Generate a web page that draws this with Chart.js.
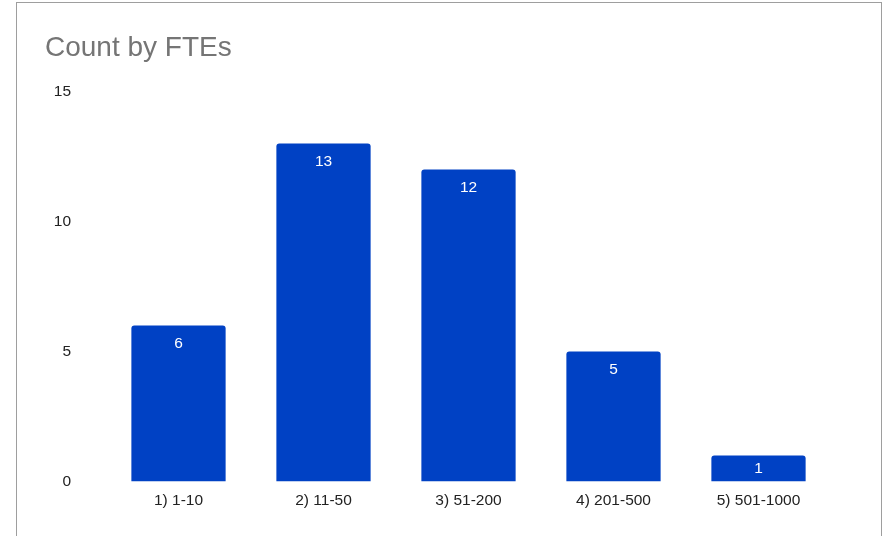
<!DOCTYPE html>
<html>
<head>
<meta charset="utf-8">
<script src="https://cdn.jsdelivr.net/npm/chart.js@4"></script>
<style>
  html, body { margin: 0; padding: 0; background: #fff; }
  body { width: 888px; height: 536px; position: relative; overflow: hidden; }
  #frame {
    position: absolute; left: 16px; top: 2px; width: 866px; height: 600px;
    border: 1px solid #9e9e9e; box-sizing: border-box;
  }
  #wrap { position: absolute; left: 0; top: 0; width: 888px; height: 536px; }
</style>
</head>
<body>
<div id="frame"></div>
<div id="wrap"><canvas id="fteChart"></canvas></div>
<script>
const categories = ["1) 1-10", "2) 11-50", "3) 51-200", "4) 201-500", "5) 501-1000"];
const counts = [6, 13, 12, 5, 1];
const yTicks = [0, 5, 10, 15];

const barColor = "#0041c4";
const fontFamily = "'Liberation Sans', Arial, sans-serif";

// draws the value near the top of each bar, in white (centred on short bars)
const valueLabels = {
  id: "valueLabels",
  afterDatasetsDraw(chart) {
    const ctx = chart.ctx;
    const meta = chart.getDatasetMeta(0);
    ctx.save();
    ctx.fillStyle = "#ffffff";
    ctx.font = "15.5px " + fontFamily;
    ctx.textAlign = "center";
    ctx.textBaseline = "middle";
    meta.data.forEach((bar, i) => {
      const y = Math.min(bar.y + 18, (bar.y + bar.base) / 2);
      ctx.fillText(String(counts[i]), bar.x, y);
    });
    ctx.restore();
  },
};

function initChart() {
  const ctx = document.getElementById("fteChart").getContext("2d");
  new Chart(ctx, {
    type: "bar",
    data: {
      labels: categories,
      datasets: [
        {
          label: "Count",
          data: counts,
          backgroundColor: barColor,
          borderRadius: { topLeft: 3, topRight: 3 },
          borderSkipped: "start",
          borderWidth: 0,
          categoryPercentage: 0.65,
          barPercentage: 1,
        },
      ],
    },
    options: {
      responsive: true,
      maintainAspectRatio: false,
      animation: false,
      layout: { padding: { left: 45, right: 57, top: 20, bottom: 16 } },
      plugins: {
        legend: { display: false },
        tooltip: { enabled: false },
        title: {
          display: true,
          text: "Count by FTEs",
          align: "start",
          color: "#757575",
          font: { family: fontFamily, size: 28, weight: "normal" },
          padding: { top: 11, bottom: 27 },
        },
      },
      scales: {
        y: {
          min: 0,
          max: 15,
          afterFit(scale) { scale.width = 61; },
          afterBuildTicks(scale) { scale.ticks = yTicks.map((v) => ({ value: v })); },
          grid: { display: false, drawTicks: false },
          border: { display: false },
          ticks: {
            color: "#222222",
            font: { family: fontFamily, size: 15.5 },
            padding: 35,
          },
        },
        x: {
          grid: { display: false, drawTicks: false },
          border: { display: false },
          ticks: {
            color: "#222222",
            font: { family: fontFamily, size: 15.5 },
            padding: 10,
            maxRotation: 0,
          },
        },
      },
    },
    plugins: [valueLabels],
  });
}

document.addEventListener("DOMContentLoaded", initChart);
</script>
</body>
</html>
